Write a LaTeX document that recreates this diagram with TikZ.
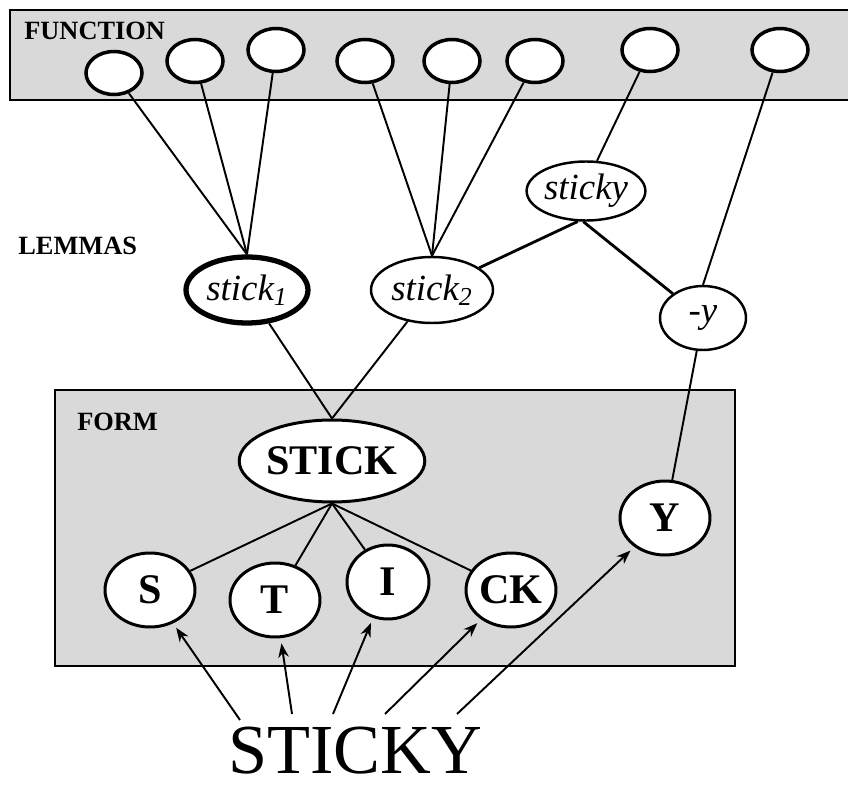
\documentclass[tikz,border=0pt]{standalone}
\usepackage{fontspec}
\setmainfont{Liberation Serif}
\usepackage{tikz}
\usetikzlibrary{arrows.meta,shapes.geometric}
\definecolor{boxgray}{RGB}{217,217,217}

\begin{document}
\begin{tikzpicture}[x=0.02cm,y=-0.02cm,
  levelname/.style={font=\fontsize{15}{17}\selectfont\bfseries,inner sep=0pt},
  fn/.style={ellipse,draw,line width=2pt,fill=white,minimum width=1.12cm,minimum height=0.86cm,inner sep=0pt},
  lemma/.style={ellipse,draw,line width=1.4pt,fill=white,inner sep=0pt,font=\fontsize{21}{24}\selectfont\itshape},
  letter/.style={ellipse,draw,line width=1.7pt,fill=white,inner sep=0pt,minimum width=1.8cm,minimum height=1.48cm,font=\fontsize{24}{26}\selectfont\bfseries},
  link/.style={line width=1.1pt},
  feed/.style={line width=1.1pt,-{Stealth[length=8pt,width=6pt]},shorten >=3pt}]
\useasboundingbox (0,0) rectangle (848,787);
% function layer
\fill[boxgray] (10,10) rectangle (848,100);
\draw[line width=1.2pt] (848,10) -- (10,10) -- (10,100) -- (848,100);
\node[levelname,anchor=base west] (lfunc) at (24,40) {FUNCTION};
\node[fn] (f1) at (114,73) {};
\node[fn] (f2) at (195,61) {};
\node[fn] (f3) at (276,50) {};
\node[fn] (f4) at (365,61) {};
\node[fn] (f5) at (452,61) {};
\node[fn] (f6) at (535,61) {};
\node[fn] (f7) at (650,50) {};
\node[fn] (f8) at (780,50) {};
% lemma layer
\node[levelname,anchor=base west] (llem) at (18,255) {LEMMAS};
\node[lemma,line width=3pt,minimum width=2.44cm,minimum height=1.32cm] (stick1) at (247,290) {stick\textsubscript{1}};
\node[lemma,minimum width=2.44cm,minimum height=1.32cm] (stick2) at (432,290) {stick\textsubscript{2}};
\node[lemma,minimum width=2.36cm,minimum height=1.18cm] (sticky) at (586,191) {sticky};
\node[lemma,minimum width=1.72cm,minimum height=1.28cm] (negy) at (703,318) {-y};
% form layer
\fill[boxgray] (55,390) rectangle (735,666);
\draw[line width=1.2pt] (55,390) rectangle (735,666);
\node[levelname,anchor=base west] (lform) at (77,430) {FORM};
\node[letter,minimum width=3.32cm,minimum height=1.64cm] (STICK) at (332,461) {STICK};
\node[letter] (S) at (150,590) {S};
\node[letter] (T) at (275,600) {T};
\node[letter,minimum width=1.64cm] (I) at (388,582) {I};
\node[letter] (CK) at (511,590) {CK};
\node[letter] (Y) at (665,518) {Y};
% input word
\node[font=\fontsize{40}{44}\selectfont,anchor=base,inner sep=0pt] (word) at (355,773) {STICKY};
\coordinate (w1) at (240,720);
\coordinate (w2) at (292,714);
\coordinate (w3) at (333,714);
\coordinate (w4) at (385,714);
\coordinate (w5) at (457,714);
% links
\foreach \f in {f1,f2,f3} \draw[link] (\f) -- (stick1.north);
\foreach \f in {f4,f5,f6} \draw[link] (\f) -- (stick2.north);
\draw[link] (f7) -- (sticky.70);
\draw[link] (f8) -- (negy.north);
\draw[link,line width=1.6pt] (sticky.255) -- (stick2);
\draw[link,line width=1.6pt] (sticky.265) -- (negy);
\draw[link] (stick1) -- (STICK.north);
\draw[link] (stick2) -- (STICK.north);
\draw[link] (negy) -- (Y);
\foreach \l in {S,T,I,CK} \draw[link] (STICK.south) -- (\l);
\draw[feed] (w1) -- (S);
\draw[feed] (w2) -- (T);
\draw[feed] (w3) -- (I);
\draw[feed] (w4) -- (CK);
\draw[feed] (w5) -- (Y);
\end{tikzpicture}
\end{document}
